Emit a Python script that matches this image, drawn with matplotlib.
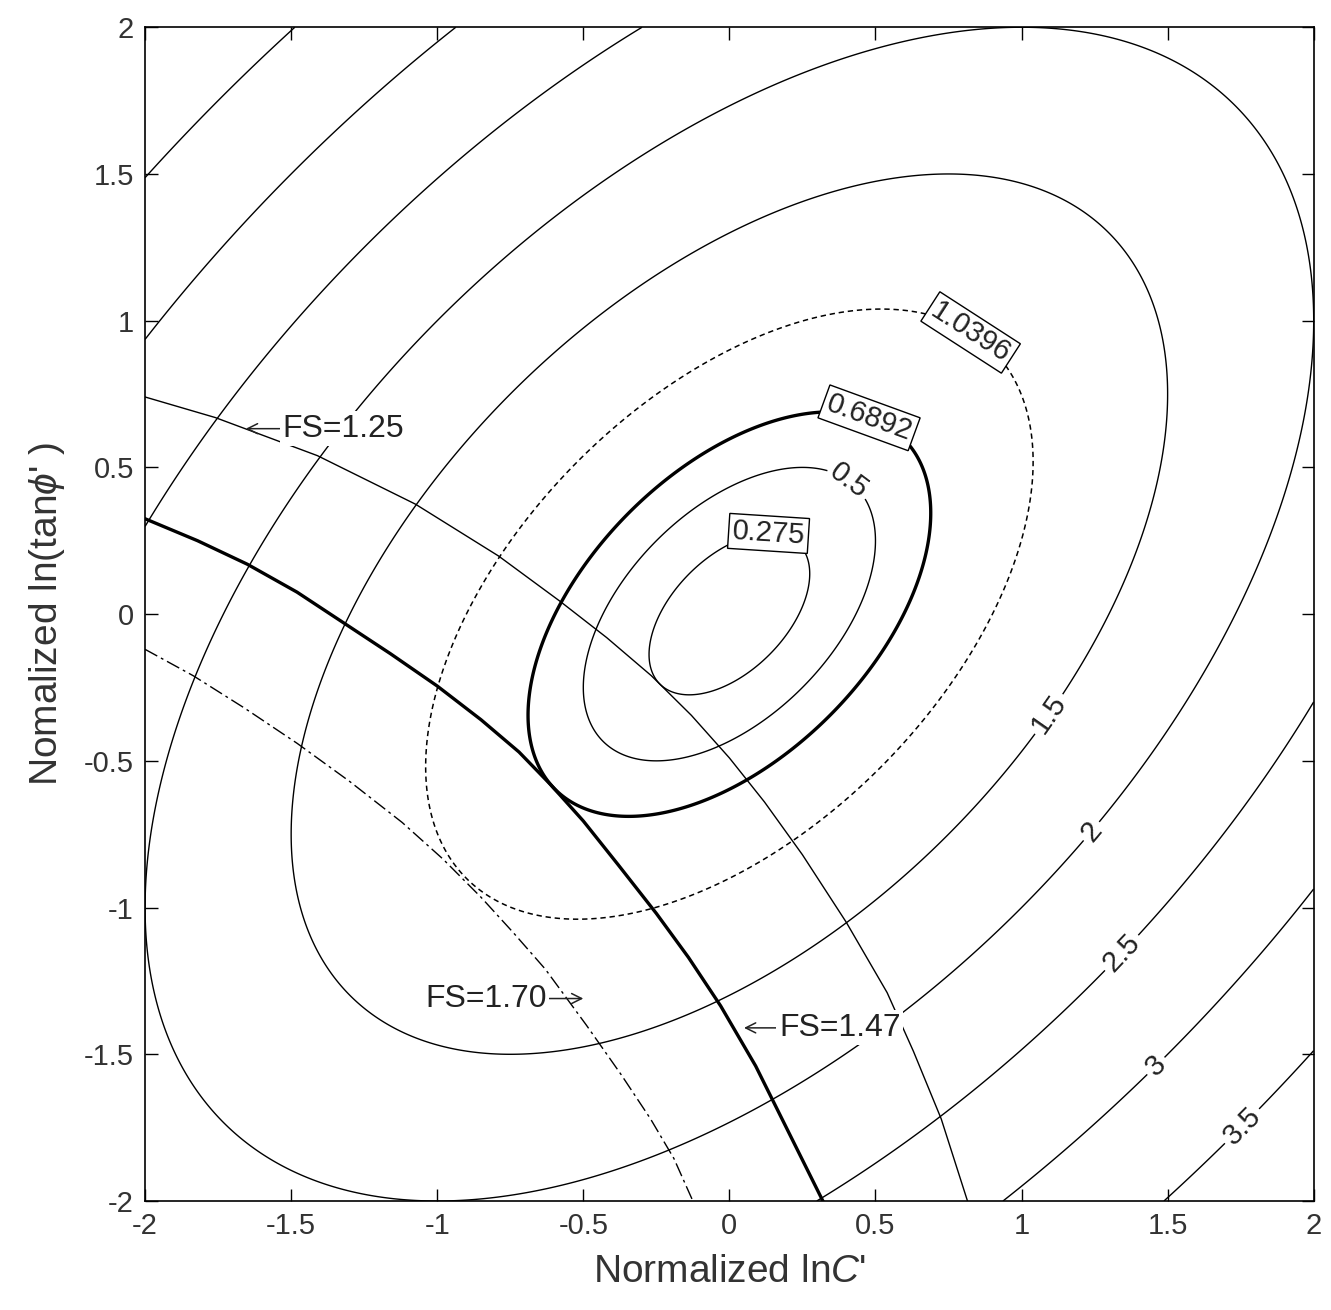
import matplotlib
matplotlib.use('Agg')
import matplotlib.pyplot as plt
import numpy as np

plt.rcParams['font.family'] = ['Liberation Sans', 'DejaVu Sans']
plt.rcParams['axes.unicode_minus'] = False
plt.rcParams['mathtext.fontset'] = 'custom'
plt.rcParams['mathtext.rm'] = 'Liberation Sans'
plt.rcParams['mathtext.it'] = 'Liberation Sans:italic'

# correlation between normalized lnC' and ln(tan phi')
rho = 0.5
thin_levels = [0.275, 0.5, 1.5, 2, 2.5, 3, 3.5]
thick_levels = [0.6892]
dashed_levels = [1.0396]
label_text = {0.275: '0.275', 0.5: '0.5', 0.6892: '0.6892', 1.0396: '1.0396',
              1.5: '1.5', 2: '2', 2.5: '2.5', 3: '3', 3.5: '3.5'}
boxed = ['0.275', '0.6892', '1.0396']
label_pos_thin = [(0.135, 0.235), (0.40, 0.44), (1.10, -0.345), (1.236, -0.737),
                  (1.37, -1.18), (1.49, -1.57), (1.77, -1.76)]
label_pos_thick = [(0.47, 0.645)]
label_pos_dashed = [(0.80, 0.92)]

# limit-state curves
fs125_x = [-2.0, -1.76, -1.41, -1.075, -0.79, -0.58, -0.42, -0.267, -0.13, 0.0, 0.12,
           0.25, 0.40, 0.54, 0.63, 0.725, 0.815]
fs125_y = [0.74, 0.67, 0.54, 0.375, 0.198, 0.044, -0.08, -0.21, -0.345, -0.49, -0.64,
           -0.82, -1.05, -1.29, -1.49, -1.72, -2.0]
fs147_x = [-2.0, -1.82, -1.65, -1.48, -1.32, -1.16, -1.0, -0.85, -0.72, -0.61, -0.50,
           -0.38, -0.25, -0.14, -0.03, 0.09, 0.19, 0.32]
fs147_y = [0.325, 0.25, 0.17, 0.075, -0.03, -0.135, -0.245, -0.36, -0.47, -0.583, -0.705,
           -0.855, -1.02, -1.17, -1.335, -1.54, -1.74, -2.0]
fs170_x = [-2.0, -1.835, -1.66, -1.48, -1.30, -1.12, -0.98, -0.85, -0.74, -0.63, -0.49,
           -0.37, -0.27, -0.19, -0.125]
fs170_y = [-0.12, -0.21, -0.32, -0.44, -0.57, -0.71, -0.835, -0.965, -1.085, -1.21, -1.40,
           -1.57, -1.72, -1.855, -2.0]

# (text, text anchor, arrow tip, horizontal alignment)
fs_notes = [
    ('FS=1.25', (-1.53, 0.632), (-1.655, 0.632), 'left'),
    ('FS=1.70', (-0.625, -1.31), (-0.50, -1.31), 'right'),
    ('FS=1.47', (0.17, -1.41), (0.05, -1.41), 'left'),
]

ticks = [-2, -1.5, -1, -0.5, 0, 0.5, 1, 1.5, 2]
tick_labels = ['-2', '-1.5', '-1', '-0.5', '0', '0.5', '1', '1.5', '2']

g = np.linspace(-2, 2, 801)
X, Y = np.meshgrid(g, g)
Z = np.sqrt((X ** 2 - 2 * rho * X * Y + Y ** 2) / (1 - rho ** 2))

fig = plt.figure(figsize=(13.31, 13.10), dpi=100)
ax = fig.add_axes([0.109, 0.0832, 0.878, 0.896])

cs1 = ax.contour(X, Y, Z, levels=thin_levels, colors='k', linewidths=1.0)
cs2 = ax.contour(X, Y, Z, levels=thick_levels, colors='k', linewidths=2.4)
cs3 = ax.contour(X, Y, Z, levels=dashed_levels, colors='k', linewidths=1.1,
                 linestyles=[(0, (3.5, 2.5))])

labels = []
labels += ax.clabel(cs1, fmt=label_text, manual=label_pos_thin, fontsize=21, inline=True, inline_spacing=4)
labels += ax.clabel(cs2, fmt=label_text, manual=label_pos_thick, fontsize=21, inline=True, inline_spacing=4)
labels += ax.clabel(cs3, fmt=label_text, manual=label_pos_dashed, fontsize=21, inline=True, inline_spacing=4)
for t in labels:
    t.set_color('#222222')
    if t.get_text() in boxed:
        t.set_bbox(dict(boxstyle='square,pad=0.12', fc='white', ec='k', lw=1.0))

ax.plot(fs125_x, fs125_y, color='k', lw=1.0)
ax.plot(fs147_x, fs147_y, color='k', lw=2.4)
ax.plot(fs170_x, fs170_y, color='k', lw=1.0, linestyle=(0, (10, 3, 2, 3)))

for text, pos, tip, ha in fs_notes:
    ax.annotate(text, xy=tip, xytext=pos, fontsize=23, ha=ha, va='center', color='#222222',
                bbox=dict(boxstyle='square,pad=0.08', fc='white', ec='none'),
                arrowprops=dict(arrowstyle='->', lw=1.1, color='#222222', shrinkA=0, shrinkB=0,
                                mutation_scale=18, relpos=(0.0 if ha == 'left' else 1.0, 0.5)),
                zorder=5)

ax.set_xlim(-2, 2)
ax.set_ylim(-2, 2)
ax.set_xticks(ticks)
ax.set_xticklabels(tick_labels)
ax.set_yticks(ticks)
ax.set_yticklabels(tick_labels)
ax.tick_params(direction='in', top=True, right=True, length=9, width=1.0,
               labelsize=21, labelcolor='#333333', pad=8)
for s in ax.spines.values():
    s.set_linewidth(1.2)

ax.set_xlabel("Normalized ln$\\mathit{C}$'", fontsize=28, color='#333333', labelpad=10)
ax.set_ylabel("Nomalized ln(tan$\\phi$' )", fontsize=28, color='#333333', labelpad=12)

fig.savefig('out.png', dpi=100)
